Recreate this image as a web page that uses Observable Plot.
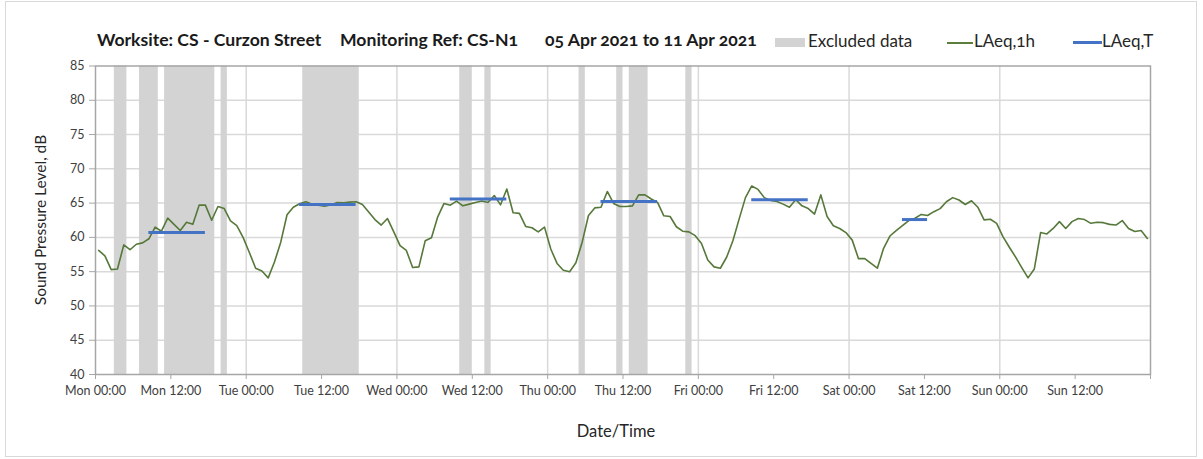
<!DOCTYPE html>
<html>
<head>
<meta charset="utf-8">
<script src="https://cdn.jsdelivr.net/npm/d3@7"></script>
<script src="https://cdn.jsdelivr.net/npm/@observablehq/plot@0.6"></script>
<style>
  body { margin: 0; background: #fff; }
  #wrap { position: relative; width: 1203px; height: 459px; overflow: hidden;
          font-family: Lato, "Open Sans", sans-serif; font-variant-numeric: oldstyle-nums; color: #262626; }
  #border { position: absolute; left: 5px; top: 1px; width: 1192px; height: 456px; border: 1px solid #d9d9d9; box-sizing: border-box; }
  #chart { position: absolute; left: 0; top: 0; }
  .t { position: absolute; top: 30px; line-height: 20px; font-size: 17.6px; font-weight: 700; white-space: nowrap; color: #1a1a1a; }
  .lg { position: absolute; top: 31px; line-height: 20px; font-size: 17px; white-space: nowrap; color: #262626; }
  .sw { position: absolute; }
  #ytitle { position: absolute; left: 40px; top: 220px; transform: translate(-50%, -50%) rotate(-90deg); font-size: 15.5px; white-space: nowrap; color: #262626; }
  #xtitle { position: absolute; left: 616px; top: 431px; transform: translate(-50%, -50%); font-size: 16.5px; white-space: nowrap; color: #262626; }
</style>
</head>
<body>
<div id="wrap">
  <div id="border"></div>
  <div id="chart"></div>
  <span class="t" style="left:97px">Worksite: CS - Curzon Street</span>
  <span class="t" style="left:340px">Monitoring Ref: CS-N1</span>
  <span class="t" style="left:545px">05 Apr 2021 to 11 Apr 2021</span>
  <div class="sw" style="left:775px;top:38px;width:30px;height:9px;background:#d3d3d3"></div>
  <span class="lg" style="left:808px">Excluded data</span>
  <div class="sw" style="left:947px;top:42px;width:26px;height:1.5px;background:#5b7f3b"></div>
  <span class="lg" style="left:974px">LAeq,1h</span>
  <div class="sw" style="left:1073px;top:41px;width:29px;height:3px;background:#4472c4"></div>
  <span class="lg" style="left:1102px">LAeq,T</span>
  <div id="ytitle">Sound Pressure Level, dB</div>
  <div id="xtitle">Date/Time</div>
</div>
<script>
// Hourly LAeq,1h values (dB), one array per day, hour 00 to 23
const monday    = [58.1, 57.3, 55.3, 55.4, 58.9, 58.2, 59.0, 59.2, 59.8, 61.5, 60.9, 62.8, 61.9, 61.0, 62.2, 61.9, 64.7, 64.7, 62.5, 64.5, 64.2, 62.4, 61.7, 60.0];
const tuesday   = [57.8, 55.5, 55.1, 54.1, 56.4, 59.3, 63.3, 64.4, 64.9, 65.2, 64.85, 64.7, 64.55, 64.75, 65.1, 65.05, 65.15, 65.2, 64.8, 63.7, 62.6, 61.8, 62.75, 60.8];
const wednesday = [58.8, 58.1, 55.6, 55.7, 59.5, 59.95, 63.0, 64.95, 64.7, 65.3, 64.6, 64.85, 65.1, 65.3, 65.1, 66.1, 64.75, 67.05, 63.6, 63.5, 61.6, 61.4, 60.8, 61.5];
const thursday  = [58.3, 56.2, 55.2, 55.0, 56.3, 59.3, 63.2, 64.3, 64.4, 66.7, 64.95, 64.5, 64.5, 64.6, 66.2, 66.2, 65.6, 65.1, 63.15, 63.05, 61.55, 60.9, 60.8, 60.25];
const friday    = [59.1, 56.7, 55.7, 55.5, 57.1, 59.5, 62.7, 65.8, 67.5, 67.0, 65.8, 65.4, 65.25, 64.85, 64.4, 65.5, 64.6, 64.2, 63.4, 66.2, 63.05, 61.7, 61.3, 60.7];
const saturday  = [59.6, 56.9, 56.9, 56.2, 55.5, 58.4, 60.2, 61.0, 61.7, 62.45, 62.8, 63.35, 63.2, 63.75, 64.2, 65.2, 65.8, 65.45, 64.8, 65.35, 64.4, 62.55, 62.65, 62.05];
const sunday    = [60.1, 58.6, 57.15, 55.6, 54.1, 55.4, 60.7, 60.5, 61.3, 62.3, 61.3, 62.3, 62.75, 62.6, 62.05, 62.2, 62.15, 61.9, 61.8, 62.45, 61.3, 60.85, 61.0, 59.85];
const dayStarts = ["2021-04-05", "2021-04-06", "2021-04-07", "2021-04-08", "2021-04-09", "2021-04-10", "2021-04-11"];

// Excluded data periods
const excludedStart = ["2021-04-05T03:00", "2021-04-05T07:00", "2021-04-05T11:00", "2021-04-05T20:00", "2021-04-06T09:00", "2021-04-07T10:00", "2021-04-07T14:00", "2021-04-08T05:00", "2021-04-08T11:00", "2021-04-08T13:00", "2021-04-08T22:00"];
const excludedEnd   = ["2021-04-05T05:00", "2021-04-05T10:00", "2021-04-05T19:00", "2021-04-05T21:00", "2021-04-06T18:00", "2021-04-07T12:00", "2021-04-07T15:00", "2021-04-08T06:00", "2021-04-08T12:00", "2021-04-08T16:00", "2021-04-08T23:00"];

// LAeq,T periods: first and last hourly interval covered, and level (dB)
const periodFirstHour = ["2021-04-05T08:00", "2021-04-06T08:00", "2021-04-07T08:00", "2021-04-08T08:00", "2021-04-09T08:00", "2021-04-10T08:00"];
const periodLastHour  = ["2021-04-05T17:00", "2021-04-06T17:00", "2021-04-07T17:00", "2021-04-08T17:00", "2021-04-09T17:00", "2021-04-10T12:00"];
const periodLevel     = [60.7, 64.8, 65.6, 65.25, 65.5, 62.6];

const yTicks = [40, 45, 50, 55, 60, 65, 70, 75, 80, 85];

const parse = s => new Date(s + (s.length === 10 ? "T00:00" : "") + ":00Z");
const HALF = 30 * 60 * 1000;

const days = [monday, tuesday, wednesday, thursday, friday, saturday, sunday];
const hourly = [];
days.forEach((vals, d) => {
  const base = parse(dayStarts[d]);
  vals.forEach((v, h) => hourly.push({t: new Date(+d3.utcHour.offset(base, h) + HALF), v}));
});
const excluded = excludedStart.map((s, i) => ({a: parse(s), b: parse(excludedEnd[i])}));
const periods = periodLevel.map((v, i) => ({a: new Date(+parse(periodFirstHour[i]) + HALF), b: new Date(+parse(periodLastHour[i]) + HALF), v}));

const start = parse(dayStarts[0]);
const end = d3.utcDay.offset(start, 7);
const halfDayTicks = d3.utcHour.every(12).range(start, d3.utcHour.offset(end, 1));
const dayGrid = d3.utcDay.range(d3.utcDay.offset(start, 1), end);
const fmt = d3.utcFormat("%a %H:%M");

const chart = Plot.plot({
  width: 1203,
  height: 459,
  marginTop: 65.5,
  marginBottom: 85,
  marginLeft: 95,
  marginRight: 53,
  style: {fontFamily: "Lato, 'Open Sans', sans-serif", fontVariantNumeric: "oldstyle-nums", background: "transparent"},
  x: {type: "utc", domain: [start, end]},
  y: {domain: [40, 85]},
  marks: [
    Plot.gridX(dayGrid, {stroke: "#d9d9d9", strokeOpacity: 1, strokeWidth: 1.5}),
    Plot.gridY(yTicks.slice(1, -1), {stroke: "#d9d9d9", strokeOpacity: 1, strokeWidth: 1.5}),
    Plot.rect(excluded, {x1: "a", x2: "b", fill: "#d3d3d3"}),
    Plot.frame({stroke: "#a6a6a6", strokeWidth: 1.5}),
    Plot.axisX(halfDayTicks, {
      tickSize: 5, tickPadding: 7, fontSize: 12.5, stroke: "#a6a6a6", fill: "#404040",
      tickFormat: d => (+d === +end ? "" : fmt(d)), label: null
    }),
    Plot.axisY(yTicks, {tickSize: 6, tickPadding: 5, fontSize: 12.5, stroke: "#a6a6a6", fill: "#404040", label: null}),
    Plot.lineY(hourly, {x: "t", y: "v", stroke: "#56783a", strokeWidth: 1.6}),
    Plot.ruleY(periods, {y: "v", x1: "a", x2: "b", stroke: "#4472c4", strokeWidth: 3})
  ]
});
document.getElementById("chart").appendChild(chart);
</script>
</body>
</html>
